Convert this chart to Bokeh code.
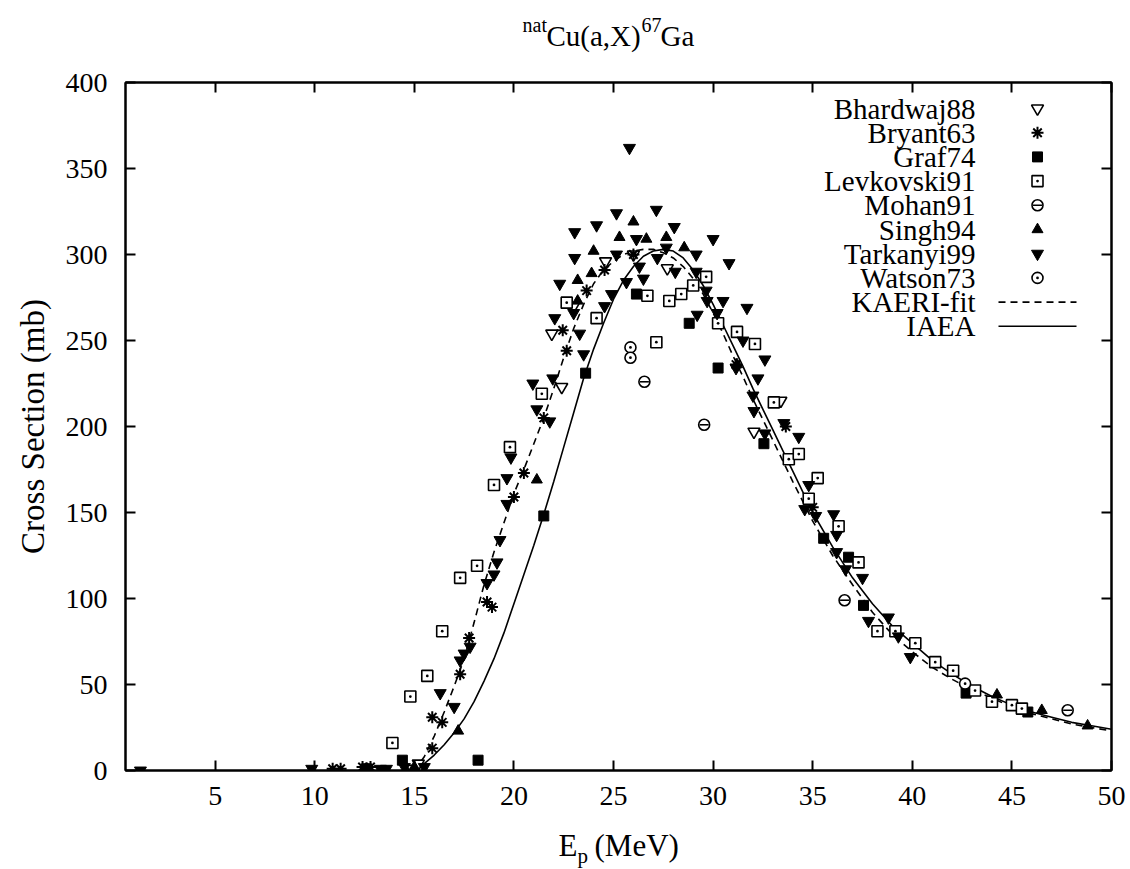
from bokeh.plotting import figure
from bokeh.layouts import column
from bokeh.models import Range1d, LinearAxis, Label, FixedTicker
from bokeh.core.properties import value
from bokeh.embed import file_html
from bokeh.resources import INLINE

# ---------------- data ----------------
x_ticks = [5, 10, 15, 20, 25, 30, 35, 40, 45, 50]
y_ticks = [0, 50, 100, 150, 200, 250, 300, 350, 400]

bhardwaj88_e = [14.9, 15.2, 21.9, 22.4, 23.0, 24.6, 26.0, 27.7, 32.05, 33.4]
bhardwaj88_s = [1, 4, 254, 223, 270, 296, 300, 292, 197, 215]

bryant63_e = [10.9, 11.3, 12.4, 12.8, 15.9, 15.9, 16.4, 17.3, 17.75, 18.65, 18.9, 20.0,
              20.5, 21.5, 22.45, 22.65, 23.65, 24.55, 26.0, 31.15, 33.65, 35.0]
bryant63_s = [1, 1, 2, 2, 13, 31, 28, 56, 77, 98, 95, 159,
              173, 205, 256, 244, 279, 291, 300, 236, 200, 153]

graf74_e = [12.6, 14.4, 18.2, 21.5, 23.6, 26.15, 28.8, 30.25, 32.55, 35.55, 36.8, 37.55, 42.7, 45.8]
graf74_s = [1, 6, 6, 148, 231, 277, 260, 234, 190, 135, 124, 96, 45, 34]

levkovski91_e = [13.9, 14.8, 15.65, 16.4, 17.3, 18.15, 19.0, 19.8, 21.4, 22.65, 24.15, 26.7,
                 27.15, 27.8, 28.4, 29.0, 29.65, 30.25, 31.2, 32.1, 33.05, 33.8, 34.3, 34.8,
                 35.25, 36.3, 37.3, 38.25, 39.15, 40.15, 41.15, 42.05, 43.15, 44.0, 45.0, 45.5]
levkovski91_s = [16, 43, 55, 81, 112, 119, 166, 188, 219, 272, 263, 276,
                 249, 273, 277, 282, 287, 260, 255, 248, 214, 181, 184, 158,
                 170, 142, 121, 81, 81, 74, 63, 58, 46.5, 40, 38, 36]

mohan91_e = [26.55, 29.55, 36.6, 47.8]
mohan91_s = [226, 201, 99, 35]

singh94_e = [15.0, 17.2, 21.15, 23.2, 23.2, 24.0, 23.9, 25.3, 26.0, 26.65, 27.65, 28.55, 31.2, 44.25, 46.5, 48.8]
singh94_s = [2, 23, 169, 285, 273, 302, 289, 310, 319, 309, 310, 304, 236, 44, 35, 26]

tarkanyi99_e = [1.25, 9.85, 13.3, 13.6, 14.5, 15.5, 16.3, 17.0, 17.3, 17.5, 17.8, 18.65, 19.0, 19.15,
                19.3, 19.65, 19.65, 19.85, 20.95, 21.15, 21.8, 21.95, 22.05, 22.3, 23.05, 23.05,
                23.0, 23.3, 23.5, 24.15, 24.55, 24.9, 25.15, 25.15, 25.65, 25.8, 26.15, 26.3,
                26.5, 27.15, 27.2, 27.65, 28.05, 28.1, 29.15, 29.15, 29.2, 29.65, 29.7, 30.0,
                30.2, 30.5, 30.8, 31.15, 31.5, 31.7, 32.0, 32.05, 32.25, 32.6, 32.6, 33.55,
                34.3, 34.8, 34.6, 35.15, 36.05, 36.2, 36.2, 36.65, 37.5, 37.8, 38.8, 39.3, 39.9]
tarkanyi99_s = [0, 1, 1, 1, 2, 2, 45, 37, 64, 68, 72, 109, 114, 121,
                134, 155, 170, 182, 225, 210, 203, 228, 263, 283, 313, 298,
                266, 254, 242, 317, 270, 277, 324, 300, 284, 362, 309, 293,
                286, 326, 298, 304, 316, 290, 300, 290, 265, 279, 273, 309,
                266, 273, 295, 234, 250, 269, 218, 209, 228, 239, 196, 202,
                194, 166, 152, 148, 149, 137, 127, 117, 112, 87, 89, 78, 66]

watson73_e = [25.85, 25.85, 42.65]
watson73_s = [246, 240, 50.5]

kaeri_e = [15.0, 15.5, 16.0, 16.5, 17.0, 17.5, 18.0, 18.5, 19.0, 19.5, 20.0, 20.5, 21.0, 21.5,
           22.0, 22.5, 23.0, 23.5, 24.0, 24.5, 25.0, 25.5, 26.0, 26.5, 27.0, 27.5, 28.0, 28.5,
           29.0, 29.5, 30.0, 30.5, 31.0, 31.5, 32.0, 32.5, 33.0, 33.5, 34.0, 35.0, 36.0, 37.0,
           38.0, 39.0, 40.0, 41.0, 42.0, 43.0, 44.0, 45.0, 46.0, 47.0, 48.0, 49.0, 50.0]
kaeri_s = [0, 8, 20, 34, 49, 65, 86, 108, 127, 144, 161, 175, 190, 205,
           222, 240, 257, 271, 283, 291, 296, 300, 302, 303, 303, 301, 298, 293,
           286, 277, 266, 254, 241, 229, 216, 204, 192, 180, 168, 145, 125, 108,
           92, 79, 69, 60, 53, 47, 42, 37, 33, 30, 27, 25, 23]

iaea_e = [14.5, 15.0, 15.5, 16.0, 16.5, 17.0, 17.5, 18.0, 18.5, 19.0, 19.5, 20.0, 20.5, 21.0,
          21.5, 22.0, 22.5, 23.0, 23.5, 24.0, 24.5, 25.0, 25.5, 26.0, 26.5, 27.0, 27.5, 28.0,
          28.5, 29.0, 29.5, 30.0, 30.5, 31.0, 31.5, 32.0, 32.5, 33.0, 33.5, 34.0, 35.0, 36.0,
          37.0, 38.0, 39.0, 40.0, 41.0, 42.0, 43.0, 44.0, 45.0, 46.0, 47.0, 48.0, 49.0, 50.0]
iaea_s = [0, 1, 4, 9, 15, 22, 30, 40, 52, 65, 80, 97, 114, 131,
          149, 168, 188, 208, 228, 245, 260, 274, 285, 293, 299, 302, 303, 302,
          298, 291, 282, 271, 259, 247, 235, 222, 210, 198, 186, 174, 150, 130,
          112, 97, 84, 74, 64, 56, 49, 43, 38, 34, 31, 28, 26, 24]

# ---------------- layout constants ----------------
FONT = "Liberation Serif"
W, H = 1130, 869
FL, FR, FT, FB = 125, 1111, 82, 770
FW, FH = FR - FL, FB - FT
TITLE_H = 56
XLAB_H = 40
TICK_FS = "28px"
LEG_FS = "29px"


def fx(cx):
    return cx - FL


def fy(cy):
    return FB - cy


# ---------------- main plot ----------------
p = figure(frame_width=FW, frame_height=FH,
           min_border_left=FL, min_border_right=W - FR,
           min_border_top=FT - TITLE_H, min_border_bottom=H - FB - XLAB_H,
           x_range=Range1d(0.5, 50), y_range=Range1d(0, 400),
           output_backend="svg", toolbar_location=None,
           background_fill_color="white", border_fill_color="white")
p.title.visible = False
p.grid.visible = False
p.outline_line_color = "black"
p.outline_line_width = 2

p.extra_x_ranges = {"px": Range1d(0, FW)}
p.extra_y_ranges = {"py": Range1d(0, FH)}


def style_axis(ax, ticks, show_labels):
    ax.ticker = FixedTicker(ticks=ticks)
    ax.axis_line_width = 2
    ax.axis_line_color = "black"
    ax.major_tick_in = 10
    ax.major_tick_out = 0
    ax.minor_tick_in = 0
    ax.minor_tick_out = 0
    ax.major_tick_line_width = 2
    ax.major_tick_line_color = "black"
    if show_labels:
        ax.major_label_text_font = FONT
        ax.major_label_text_font_size = TICK_FS
        ax.major_label_text_color = "black"
    else:
        ax.major_label_text_font_size = "2px"
        ax.major_label_text_color = None
        ax.major_label_standoff = 0


style_axis(p.xaxis[0], x_ticks, True)
p.xaxis[0].major_label_standoff = 16
style_axis(p.yaxis[0], y_ticks, True)
p.yaxis[0].major_label_standoff = 18
p.yaxis[0].axis_label = "Cross Section (mb)"
p.yaxis[0].axis_label_text_font = FONT
p.yaxis[0].axis_label_text_font_size = "33px"
p.yaxis[0].axis_label_text_font_style = "normal"
p.yaxis[0].axis_label_text_color = "black"
p.yaxis[0].axis_label_standoff = 12

top_ax = LinearAxis()
style_axis(top_ax, x_ticks, False)
p.add_layout(top_ax, "above")
right_ax = LinearAxis()
style_axis(right_ax, y_ticks, False)
p.add_layout(right_ax, "right")

# curves
p.line(kaeri_e, kaeri_s, line_color="black", line_width=1.6, line_dash="7 5")
p.line(iaea_e, iaea_s, line_color="black", line_width=1.6)

# data points (each series may overlay several markers)
ring = dict(marker="circle", size=11, fill_color="white", line_color="black", line_width=1.6)
series = [
    ("Bhardwaj88", bhardwaj88_e, bhardwaj88_s,
     [dict(marker="inverted_triangle", size=12, fill_color="white", line_color="black", line_width=1.6)]),
    ("Bryant63", bryant63_e, bryant63_s,
     [dict(marker="asterisk", size=12, line_color="black", line_width=2)]),
    ("Graf74", graf74_e, graf74_s,
     [dict(marker="square", size=10, fill_color="black", line_color="black")]),
    ("Levkovski91", levkovski91_e, levkovski91_s,
     [dict(marker="square_dot", size=11, fill_color="white", line_color="black", line_width=1.6)]),
    ("Mohan91", mohan91_e, mohan91_s,
     [ring, dict(marker="dash", size=9, line_color="black", line_width=1.6)]),
    ("Singh94", singh94_e, singh94_s,
     [dict(marker="triangle", size=11, fill_color="black", line_color="black")]),
    ("Tarkanyi99", tarkanyi99_e, tarkanyi99_s,
     [dict(marker="inverted_triangle", size=12, fill_color="black", line_color="black")]),
    ("Watson73", watson73_e, watson73_s,
     [dict(marker="circle_dot", size=11, fill_color="white", line_color="black", line_width=1.6)]),
]
for name, xs, ys, styles in series:
    for st in styles:
        p.scatter(xs, ys, **st)

# legend: text on the left, key on the right
LEG_TEXT_X = 975
LEG_KEY_X = 1037
LEG_Y0 = 108
LEG_DY = 24.2
for i, (name, xs, ys, styles) in enumerate(series):
    cy = LEG_Y0 + i * LEG_DY
    p.add_layout(Label(x=fx(LEG_TEXT_X), y=fy(cy), x_units="screen", y_units="screen",
                       text=name, text_font=FONT, text_font_size=LEG_FS,
                       text_align="right", text_baseline="middle", text_color="black"))
    for st in styles:
        p.scatter([fx(LEG_KEY_X)], [fy(cy)], x_range_name="px", y_range_name="py", **st)

for j, (name, dash) in enumerate([("KAERI-fit", "7 5"), ("IAEA", "solid")]):
    cy = LEG_Y0 + (len(series) + j) * LEG_DY
    p.add_layout(Label(x=fx(LEG_TEXT_X), y=fy(cy), x_units="screen", y_units="screen",
                       text=name, text_font=FONT, text_font_size=LEG_FS,
                       text_align="right", text_baseline="middle", text_color="black"))
    p.line([fx(998), fx(1076)], [fy(cy), fy(cy)], x_range_name="px", y_range_name="py",
           line_color="black", line_width=1.6, line_dash=dash)


# ---------------- text strips (title above, x label below) ----------------
def strip(height):
    # frame aligned with the main plot's frame; data units = canvas pixels
    f = figure(frame_width=FW, frame_height=height,
               min_border_left=FL, min_border_right=W - FR,
               min_border_top=0, min_border_bottom=0,
               x_range=Range1d(FL, FR), y_range=Range1d(0, height),
               x_axis_location=None, y_axis_location=None,
               output_backend="svg", toolbar_location=None,
               background_fill_color="white", border_fill_color="white")
    f.title.visible = False
    f.grid.visible = False
    f.outline_line_color = None
    return f


def put(f, height, text, cx, cy_mid, size):
    # cy_mid: canvas y of the text's middle line
    f.text(x=[cx], y=[height - cy_mid], text=[text], text_font=value(FONT),
           text_font_size=value(size), text_align="left", text_baseline="middle",
           text_color="black")


title_fig = strip(TITLE_H)
TM = 35      # middle of main title text
SM = 24      # middle of superscripts
put(title_fig, TITLE_H, "nat", 522, SM, "20px")
put(title_fig, TITLE_H, "Cu(a,X)", 546, TM, "29px")
put(title_fig, TITLE_H, "67", 641, SM, "20px")
put(title_fig, TITLE_H, "Ga", 660, TM, "29px")

xlab_fig = strip(XLAB_H)
XM = 845 - (H - XLAB_H)
PM = 855 - (H - XLAB_H)
put(xlab_fig, XLAB_H, "E", 558, XM, "31px")
put(xlab_fig, XLAB_H, "p", 577, PM, "21px")
put(xlab_fig, XLAB_H, "(MeV)", 594, XM, "31px")

layout = column(title_fig, p, xlab_fig, spacing=0)
open("out.html", "w").write(file_html(layout, INLINE))
